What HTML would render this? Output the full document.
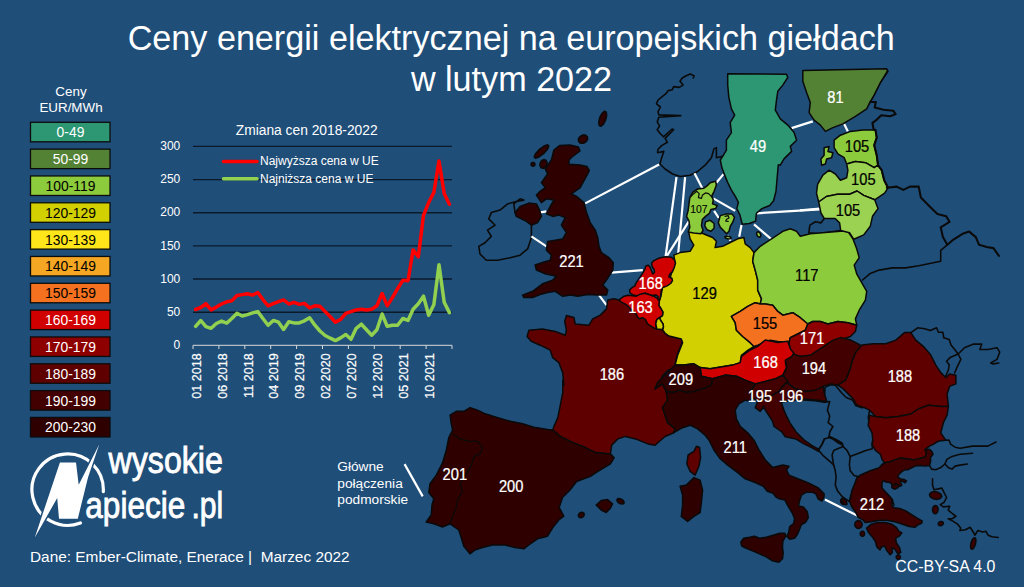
<!DOCTYPE html>
<html lang="pl"><head><meta charset="utf-8"><title>Ceny energii elektrycznej na europejskich giełdach w lutym 2022</title>
<style>
html,body{margin:0;padding:0;background:#1f4e79;}
body{width:1024px;height:587px;overflow:hidden;position:relative;font-family:"Liberation Sans",sans-serif;}
svg{position:absolute;left:0;top:0;display:block;font-family:"Liberation Sans",sans-serif;}
</style></head><body>
<svg width="1024" height="587" viewBox="0 0 1024 587">
<rect width="1024" height="587" fill="#1f4e79"/>
<g id="outl" fill="none" stroke="#0a0a0a" stroke-width="1.6" stroke-linejoin="round" stroke-linecap="round">
<polyline points="515.1,212.6 513.8,203.9 520.1,198.8 523.9,200.1 516.3,201.4 507.6,203.9 500.1,210.1 491.3,212.6 488.8,218.9 495.1,225.2 487.5,230.2 491.3,236.4 485.0,242.7 478.8,246.4 480.0,254.0 486.3,260.2 497.6,260.2 510.1,257.7 520.1,255.2 527.6,248.9 531.4,237.7 531.4,225.2"/>
<polyline points="693.3,78.0 694.1,75.7 690.2,74.1 686.2,75.7 682.3,78.0 680.0,81.2 683.1,85.1 679.2,87.4 673.7,86.6 672.1,89.8 668.2,90.6 665.9,93.7 661.9,96.8 658.0,100.0 656.5,103.9 660.4,107.0 658.0,111.7 658.8,114.9 680.8,115.6 658.8,117.2 657.2,121.9 659.6,125.8 657.2,129.7 660.4,133.7 663.5,136.8 672.1,129.0 673.7,129.7 665.1,138.4 667.4,142.3 661.9,145.4 658.0,149.3 657.5,152.7 663.8,151.4 661.3,158.9 660.0,164.0 665.1,169.0 672.6,174.0 680.1,176.5 690.1,175.2 697.6,171.5 705.1,165.2 711.4,157.7 713.9,148.9 716.4,147.7 716.4,157.7 722.7,156.4"/>
<polyline points="947.3,244.8 940.7,250.3 940.7,261.3 929.7,263.5 918.7,265.7 905.5,267.9 892.3,267.9 879.1,270.1 870.3,273.4 862.6,280.0"/>
<polyline points="840.7,230.5 828.6,232.3 817.6,233.8 808.8,232.7 809.9,225.1 815.4,221.8 820.9,222.9 824.2,218.5"/>
<polyline points="911.3,332.3 917.6,327.8 924.8,328.7 930.3,330.5 936.6,327.8 938.4,332.3 942.9,332.3 943.8,337.8 949.2,339.6 951.0,345.0 955.5,350.4 958.2,354.0 950.1,357.6 946.5,361.2 949.2,364.8 948.3,370.3 944.7,378.4"/>
<polyline points="954.6,373.0 957.3,366.6 960.9,359.4 958.2,354.0 964.5,347.7 973.6,344.1 981.7,344.1 979.9,349.5 988.0,349.5 997.0,347.7 999.7,352.2 997.0,359.4 990.7,363.0 993.4,363.9 998.8,363.0"/>
<polyline points="781.2,402.2 791.3,399.9 803.9,399.9 814.9,400.7 824.3,402.2 829.7,401.5 827.4,410.1 829.7,416.3 828.2,422.6 832.9,426.5 829.7,432.0 829.0,437.5 824.3,439.1 821.9,444.6 818.8,449.3"/>
<polyline points="824.3,402.2 825.0,387.4 829.7,385.0 835.2,385.0 841.5,392.8 846.2,397.5 852.5,399.9 855.6,405.4 861.9,407.7 866.6,405.4 869.7,410.1 868.2,417.9 869.7,424.2 875.2,428.9 876.8,433.6 872.9,438.3 872.1,444.6 875.2,430.0 876.8,434.7 872.8,440.0"/>
<polyline points="829.0,437.5 832.9,439.1 838.4,443.0 843.1,445.3 829.0,436.3 836.1,439.4 842.3,443.3 843.1,446.5 837.6,448.8 833.7,450.4 832.1,455.1 832.9,460.6 833.7,465.3"/>
<polyline points="824.3,439.1 821.9,444.6 818.8,449.3 818.8,450.4"/>
<polyline points="818.8,450.4 823.5,455.9 829.8,461.3 833.7,465.3 835.3,470.8 836.1,477.0 835.3,484.9 837.6,491.1 841.5,495.8 845.5,499.0 850.2,502.1"/>
<polyline points="843.1,446.5 847.0,450.4 850.2,456.6 849.4,464.5 850.2,470.8 854.1,475.5 859.6,477.0 860.3,477.8"/>
<polyline points="850.2,456.6 858.0,453.5 865.8,450.4 872.3,448.7 872.3,445.1"/>
<polyline points="929.5,465.6 931.6,469.1 935.7,469.7 940.8,467.6 944.9,464.0 946.9,459.4 952.0,456.4 960.0,454.3 972.5,453.3"/>
<polyline points="944.9,464.0 949.0,468.1 952.0,469.1 955.1,466.1 960.0,465.1 967.4,464.0"/>
<polyline points="941.8,440.5 949.0,440.0 950.5,444.1 955.1,447.2 960.0,448.2 972.5,446.1 987.8,446.1 996.0,442.0"/>
<polyline points="932.5,478.7 932.5,485.0 934.0,489.7 941.9,488.1 944.2,492.8 946.6,497.5 944.2,502.2 940.3,504.6 943.4,506.9 949.7,506.2 948.2,510.1 952.9,514.0 956.0,516.3 952.1,518.7 948.2,518.7 952.9,521.1 957.6,524.2 960.7,528.1 959.9,530.5 965.4,529.7 970.1,527.3 973.2,532.0 974.8,535.2 977.9,530.5 982.6,532.0 985.8,531.2 988.1,535.2 992.0,536.7 998.3,537.5"/>
</g>
<g id="cables" stroke="#fff" stroke-width="2.2" stroke-linecap="butt">
<line x1="585.2" y1="203.4" x2="659.1" y2="164.5"/>
<line x1="538.9" y1="212.6" x2="546.4" y2="211.4"/>
<line x1="531.4" y1="236.4" x2="546.4" y2="246.4"/>
<line x1="611.5" y1="272.7" x2="642.8" y2="270.2"/>
<line x1="599.0" y1="295.1" x2="606.5" y2="305.1"/>
<line x1="676.5" y1="177.2" x2="665.5" y2="257.2"/>
<line x1="685.1" y1="177.2" x2="677.6" y2="260.3"/>
<line x1="694.5" y1="173.3" x2="702.3" y2="188.2"/>
<line x1="723.5" y1="174.1" x2="716.4" y2="182.7"/>
<line x1="713.3" y1="198.4" x2="735.2" y2="210.9"/>
<line x1="714.1" y1="210.9" x2="718.8" y2="218.0"/>
<line x1="689.0" y1="221.1" x2="667.1" y2="255.6"/>
<line x1="741.5" y1="225.0" x2="739.2" y2="236.8"/>
<line x1="754.0" y1="224.3" x2="771.3" y2="239.2"/>
<line x1="756.4" y1="213.3" x2="820.0" y2="209.4"/>
<line x1="800.0" y1="210.3" x2="819.8" y2="208.6"/>
<line x1="727.4" y1="235.2" x2="730.5" y2="240.7"/>
<line x1="791.6" y1="128.1" x2="812.8" y2="121.4"/>
<line x1="844.2" y1="123.9" x2="847.9" y2="131.4"/>
<line x1="824.9" y1="499.6" x2="861.7" y2="517.7"/>
<line x1="404.6" y1="464.1" x2="422.7" y2="496.4"/>
</g>
<g id="map" stroke="#0a0a0a" stroke-width="1.5" stroke-linejoin="round">
<polygon points="607.8,300.1 614.0,298.8 620.0,300.3 621.0,301.3 624.1,302.9 627.2,304.9 630.2,308.0 633.3,311.0 636.3,313.6 637.4,316.2 639.4,318.2 642.5,317.2 645.5,319.2 647.6,323.3 650.6,325.3 653.7,327.4 656.8,328.9 662.4,329.4 664.9,333.0 669.0,336.1 675.2,337.6 681.3,339.1 682.3,342.2 677.9,352.7 675.4,362.7 675.4,367.7 667.9,370.2 662.9,375.3 657.9,385.3 655.0,388.9 662.5,383.9 666.3,391.4 667.6,400.1 662.5,407.7 665.1,415.2 667.6,422.7 675.1,428.9 673.8,432.7 665.1,436.5 655.0,445.2 648.0,443.9 635.5,438.9 625.4,436.4 617.9,438.9 611.7,445.1 610.4,453.9 595.4,452.6 582.8,446.4 572.8,442.6 560.3,436.4 552.8,430.1 554.0,426.3 557.8,417.6 560.3,405.1 562.8,392.5 562.8,380.0 563.9,385.3 562.7,372.7 558.9,362.7 552.7,357.7 550.2,350.2 540.1,345.2 531.4,341.4 527.1,336.4 528.9,330.2 542.6,328.9 555.2,331.4 565.2,335.2 566.4,330.2 564.7,321.4 566.4,315.6 574.0,317.6 575.2,323.9 589.0,325.2 592.7,318.9 600.3,315.1 606.5,308.9" fill="#5e0000"/>
<polygon points="688.8,232.5 697.6,231.3 706.4,235.0 712.6,237.5 716.4,241.3 715.1,247.6 722.6,246.3 730.2,242.5 737.7,238.8 743.9,237.5 745.2,243.8 750.2,247.6 754.0,252.6 752.7,261.3 755.2,270.1 757.7,280.1 757.7,290.1 761.5,298.9 760.2,303.9 755.2,302.7 747.7,306.4 740.2,311.4 731.4,316.4 735.2,322.7 736.4,330.2 742.7,336.5 750.2,342.7 754.0,346.5 747.7,350.3 741.4,355.3 740.2,362.8 740.2,362.6 732.7,365.1 717.7,367.6 710.1,368.8 700.1,367.6 693.9,363.8 683.8,365.1 675.1,365.1 677.6,355.3 682.6,342.7 681.3,339.1 675.2,337.6 669.0,336.1 664.9,333.0 662.4,329.4 663.4,326.9 662.9,323.8 660.9,320.8 659.3,317.9 662.4,315.6 662.9,312.1 660.9,308.5 658.8,305.4 659.3,301.3 660.9,296.2 662.5,287.6 668.8,282.6 671.3,273.9 675.1,262.6 673.8,255.1 680.1,252.6 690.1,251.3 693.8,245.1 690.1,238.8" fill="#d2d000"/>
<polygon points="559.6,145.5 570,145 578.4,147 580,151 572,157 569,160 569,164.3 580,165 587,166.6 589.3,170.5 587.7,173.8 580.2,187.6 571.5,193.8 576.5,196.3 584.0,202.6 586.5,212.6 590.2,222.6 595.3,230.2 597.8,237.7 599.0,246.4 601.5,252.7 609.0,257.7 613.3,262.7 613.3,262.5 612.8,270.0 607.3,278.8 602.8,285.1 607.8,290.1 606.5,295.1 597.8,295.1 587.7,294.6 577.7,296.3 570.2,295.1 562.7,296.3 555.2,291.3 547.7,292.6 540.1,294.6 532.6,297.6 523.9,297.6 522.6,295.1 532.6,291.3 542.6,283.8 552.7,280.1 556.4,276.3 545.2,273.8 536.4,270.0 535.1,265.0 542.6,262.5 550.2,260.2 551.4,255.2 546.4,250.2 547.7,241.4 555.2,240.2 562.7,238.9 566.4,232.7 561.4,225.2 565.2,217.6 558.9,215.1 552.7,216.4 546.4,213.9 550.2,206.4 553.9,200.1 546.4,198.8 541.4,202.6 536.4,195.1 540.1,191.3 545.2,187.6 541.4,182.6 547.7,173.8 545.2,168.8 551.4,160.0 553.9,150.0" fill="#2e0000"/>
<polygon points="515.1,212.6 520.1,206.4 528.9,203.1 536.4,203.9 539.6,210.1 541.4,216.4 537.6,222.6 531.4,225.2 526.4,221.4 521.4,218.9 516.3,216.4" fill="#2e0000"/>
<polygon points="605.7,119.9 603.5,124.1 601.0,126.3 599.2,125.6 598.7,122.3 599.7,117.7 601.9,113.5 604.4,111.3 606.2,112.0 606.7,115.3" fill="#2e0000"/>
<polygon points="587.3,136.7 587.7,139.2 586.2,141.7 583.6,143.3 580.7,143.3 578.7,141.7 578.3,139.2 579.8,136.7 582.4,135.1 585.3,135.1" fill="#2e0000"/>
<polygon points="543.5,153.7 539.0,157.0 535.4,158.2 534.2,156.9 535.7,153.4 539.5,149.3 544.0,146.0 547.6,144.8 548.8,146.1 547.3,149.6" fill="#2e0000"/>
<polygon points="535.0,164.3 534.6,165.5 533.6,166.2 532.4,166.2 531.4,165.5 531.0,164.3 531.4,163.1 532.4,162.4 533.6,162.4 534.6,163.1" fill="#2e0000"/>
<polygon points="546.8,165.2 545.3,167.5 543.1,168.4 541.0,167.7 539.9,165.5 540.2,162.8 541.7,160.5 543.9,159.6 546.0,160.3 547.1,162.5" fill="#2e0000"/>
<polygon points="696.4,446.3 699.6,447.5 700.6,457.5 698.9,466.3 695.1,475.1 690.1,471.3 686.8,463.8 688.1,455.0 693.9,451.3" fill="#5e0000"/>
<polygon points="450.1,415.1 456.3,411.3 463.9,411.3 470.1,407.6 477.6,410.1 485.2,413.8 497.7,417.6 510.2,421.3 522.7,423.8 535.3,427.6 547.8,429.6 552.8,430.1 560.3,436.4 572.8,442.6 582.8,446.4 595.4,452.6 610.4,453.9 614.2,457.7 610.4,463.9 597.9,471.4 590.4,476.4 576.6,481.5 570.0,490.0 562.5,497.5 559.2,507.5 563.8,516.2 558.8,520.0 553.8,526.2 547.5,536.2 537.5,538.8 528.8,545.0 523.8,548.8 515.0,547.5 505.0,545.0 492.5,545.0 482.5,547.5 475.0,550.0 470.0,553.8 463.8,546.2 461.2,537.5 458.8,530.0 450.0,523.8 442.5,527.0 433.8,523.8 426.2,522.0 431.2,515.0 432.0,505.0 433.8,498.8 428.8,492.5 430.0,483.8 436.3,475.2 442.6,462.7 446.3,450.1 448.8,437.6 452.6,430.1 451.3,423.8" fill="#2e0000"/>
<polygon points="596.2,505.0 601.2,500.5 607.5,499.5 612.5,503.8 610.0,508.8 606.2,512.5 601.2,510.0" fill="#2e0000"/>
<polygon points="624.0,503.3 622.6,504.1 620.5,503.8 618.3,502.6 617.0,500.9 617.0,499.3 618.4,498.5 620.5,498.8 622.7,500.0 624.0,501.7" fill="#2e0000"/>
<polygon points="583.9,513.2 584.3,514.8 583.5,516.5 581.9,517.6 580.1,517.7 578.7,516.8 578.3,515.2 579.1,513.5 580.7,512.4 582.5,512.3" fill="#2e0000"/>
<polygon points="653.4,260.9 659.4,257.9 665.3,256.7 671.3,257.3 674.3,259.7 675.5,263.3 674.3,267.4 672.5,271.6 669.5,274.6 668.9,277.0 671.9,278.2 672.5,280.6 670.7,283.5 667.1,285.9 664.1,287.1 661.8,287.7 661.2,291.3 660.6,296.1 659.6,299.6 658.2,302.0 657.9,298.5 658.2,296.7 655.8,294.9 651.0,295.5 645.6,293.1 641.5,294.3 637.9,296.1 633.1,294.9 630.1,293.1 629.5,290.1 631.9,287.7 634.9,285.9 636.1,282.9 638.5,279.4 640.9,275.8 643.3,272.2 645.1,268.6 645.6,266.2 648.0,265.1 649.8,266.8 651.6,271.0 652.8,274.0 654.6,272.2 654.0,269.2 652.2,266.8 651.6,263.3" fill="#d00000"/>
<polygon points="621.0,298.3 624.1,296.2 628.2,295.2 632.3,295.7 636.3,296.2 640.4,294.2 644.5,293.2 649.6,294.7 653.7,296.2 657.3,298.3 659.3,301.3 658.8,305.4 660.9,308.5 662.9,312.1 662.4,315.6 659.3,317.7 656.8,319.7 655.8,323.8 656.8,328.9 653.7,327.9 650.6,325.9 647.6,323.8 645.5,319.7 642.5,317.7 639.4,318.7 637.4,316.7 636.3,314.1 633.3,311.6 630.2,308.5 627.2,305.4 624.1,303.4 621.0,301.9 620.0,301.3 620.0,298.8" fill="#d00000"/>
<polygon points="656.8,319.7 659.3,317.9 660.9,320.8 662.9,323.8 663.4,326.9 662.4,329.4 656.8,328.9 655.8,323.8" fill="#d2d000"/>
<polygon points="656.8,319.7 659.3,317.9 660.9,320.8 662.9,323.8 663.4,326.9 662.4,329.4 656.8,328.9 655.8,323.8" fill="#d2d000"/>
<polygon points="754.0,252.6 760.2,246.3 767.7,241.3 775.3,236.3 782.8,231.3 790.3,228.8 796.5,231.3 800.3,236.3 810.3,233.8 825.4,232.5 840.4,231.3 847.9,231.3 852.9,238.8 856.7,248.8 859.2,257.6 854.2,265.1 856.7,273.9 861.7,282.6 866.7,291.4 865.4,300.2 859.2,310.2 855.4,318.9 856.7,325.2 847.9,322.7 837.9,321.5 827.9,324.0 820.3,321.5 812.8,321.5 807.8,324.0 800.3,317.7 792.8,312.7 782.8,315.2 777.8,311.4 772.7,305.2 765.2,303.9 760.2,303.9 761.5,298.9 757.7,290.1 757.7,280.1 755.2,270.1 752.7,261.3" fill="#8ccb3c"/>
<polygon points="731.4,316.4 740.2,311.4 747.7,306.4 755.2,302.7 760.2,303.9 765.2,303.9 772.7,305.2 777.8,311.4 782.8,315.2 792.8,312.7 800.3,317.7 807.8,324.0 805.3,330.2 797.8,334.0 790.3,337.7 789.0,342.7 777.8,341.5 770.2,340.2 764.0,342.7 757.7,345.3 754.0,346.5 750.2,342.7 742.7,336.5 736.4,330.2 735.2,322.7" fill="#f4711f"/>
<polygon points="807.8,324.0 812.8,321.5 820.3,321.5 827.9,324.0 837.9,321.5 847.9,322.7 856.7,325.2 855.4,331.5 850.4,336.5 842.9,339.0 835.4,340.2 827.9,345.3 820.3,350.3 812.8,355.3 802.8,356.5 795.3,355.3 790.3,350.3 789.0,342.7 790.3,337.7 797.8,334.0 805.3,330.2" fill="#8e0000"/>
<polygon points="700.1,367.6 710.1,368.8 717.7,367.6 732.7,365.1 740.2,362.6 741.5,356.3 750.2,350.0 757.7,346.3 765.3,340.0 777.8,342.5 787.8,341.3 790.3,348.8 795.3,355.1 790.3,358.8 785.3,361.3 786.5,367.6 782.8,375.1 775.3,378.8 765.3,381.4 755.2,383.9 745.2,380.1 736.4,376.3 725.2,375.1 712.6,378.8 701.4,376.3" fill="#d00000"/>
<polygon points="675.1,365.1 683.8,365.1 693.9,363.8 700.1,367.6 701.4,376.3 712.6,378.8 711.4,385.1 702.6,388.9 693.9,391.4 686.3,392.6 680.1,390.1 672.6,392.6 666.3,391.4 662.5,383.9 655.0,388.9 657.5,382.6 666.3,373.8 671.3,368.8" fill="#2e0000"/>
<polygon points="793.1,353.9 800.6,356.4 810.6,355.1 818.1,350.1 825.6,345.1 833.1,340.1 840.6,337.6 850.7,340.1 858.2,343.8 861.9,346.3 855.7,352.6 851.9,362.6 849.4,371.4 845.7,380.2 838.1,385.2 830.6,383.9 823.1,386.4 815.6,390.2 805.6,391.4 795.6,388.9 786.8,382.7 783.0,375.2 786.8,367.6 785.5,360.1 791.8,356.4" fill="#420000"/>
<polygon points="755.2,383.9 765.3,381.4 775.3,378.8 782.8,375.1 787.8,381.4 782.8,386.4 779.0,391.4 772.8,395.1 765.3,397.6 757.7,401.4 752.7,397.6 751.5,390.1" fill="#420000"/>
<polygon points="786.8,382.7 795.6,388.9 805.6,391.4 815.6,390.2 823.1,386.4 824.4,393.9 826.9,401.5 818.1,400.2 805.6,398.9 793.1,400.2 781.8,401.5 781.2,402.2 785.1,413.2 789.8,422.6 796.1,432.0 803.9,439.9 811.7,445.3 818.8,449.3 818.8,451.6 811.7,447.7 803.9,443.8 796.1,439.1 785.1,436.7 781.9,432.0 774.1,426.5 772.5,421.1 766.3,411.6 763.1,406.2 764.0,406.4 760.2,411.4 755.2,407.7 757.7,401.4 765.3,397.6 772.8,395.1 779.0,391.4 782.8,386.4 787.8,381.4" fill="#420000"/>
<polygon points="666.3,391.4 672.6,392.6 680.1,390.1 686.3,392.6 693.9,391.4 702.6,388.9 711.4,385.1 712.6,378.8 725.2,375.1 736.4,376.3 745.2,380.1 755.2,383.9 751.5,390.1 752.7,397.6 750.2,401.4 745.2,400.1 738.9,403.9 735.2,410.2 736.4,418.9 740.2,426.4 747.7,432.7 754.0,440.2 759.0,450.0 765.3,460.0 772.8,467.6 782.8,465.1 789.0,466.3 786.5,470.1 789.0,475.1 797.8,478.8 807.8,482.6 817.9,487.6 824.1,493.9 824.0,497.1 822.0,501.0 818.1,499.0 816.1,494.2 812.2,492.2 806.4,492.2 801.5,495.1 799.5,501.0 798.5,505.9 803.4,506.9 807.3,511.8 808.3,517.6 805.4,522.5 801.5,524.5 799.5,529.4 797.5,534.3 794.6,538.2 789.7,539.2 786.8,536.2 788.7,532.3 789.7,526.5 793.6,523.5 794.6,518.6 792.6,513.7 789.7,508.8 786.8,503.9 784.8,500.0 779.9,499.0 776.0,497.1 773.1,493.2 767.2,491.2 763.3,486.3 755.2,482.6 745.2,478.8 737.7,472.6 727.7,465.1 720.2,458.8 713.9,450.0 708.9,440.0 705.1,435.2 697.6,428.9 690.1,425.2 682.6,427.7 673.8,432.7 675.1,428.9 667.6,422.7 665.1,415.2 662.5,407.7 667.6,400.1" fill="#2e0000"/>
<polygon points="740.8,542.1 743.7,538.2 749.6,537.2 754.5,536.2 759.4,538.2 766.2,537.2 773.1,535.3 779.9,533.3 784.8,533.3 785.8,536.2 782.9,541.1 782.5,547.0 783.2,552.9 782.5,558.8 778.9,562.3 772.1,560.7 766.2,556.8 759.4,553.9 752.5,550.9 745.7,548.0 741.7,546.0" fill="#2e0000"/>
<polygon points="680.1,486.3 686.3,485.1 693.9,477.6 700.1,480.1 702.6,490.1 701.4,502.6 700.1,512.6 693.9,516.4 687.6,521.4 681.3,516.4 682.6,505.1 682.6,495.1" fill="#2e0000"/>
<polygon points="861.9,345.1 873.2,343.8 885.7,343.8 895.8,340.1 904.5,332.6 910.8,332.6 915.8,340.1 923.3,346.3 930.8,355.1 935.8,365.1 940.8,372.6 945.9,377.7 949.6,373.9 955.9,375.2 955.9,383.9 949.6,386.4 947.1,393.9 948.4,406.5 940.8,406.5 928.3,405.2 918.3,409.0 910.8,414.0 898.3,416.5 885.7,417.7 875.7,416.5 869.5,410.2 864.4,407.7 856.9,405.2 853.2,398.9 848.2,393.9 843.2,388.9 838.1,385.2 845.7,380.2 849.4,371.4 851.9,362.6 855.7,352.6" fill="#5e0000"/>
<polygon points="869.5,415.2 875.7,416.5 885.7,417.7 898.3,416.5 910.8,414.0 918.3,409.0 928.3,405.2 940.8,406.5 948.4,406.5 947.1,415.2 943.4,422.7 940.8,432.8 945.9,440.3 941.8,440.5 937.7,441.5 933.6,444.1 929.5,446.1 924.9,449.7 926.5,452.3 925.4,456.9 919.3,458.4 914.2,459.9 908.1,458.9 900.9,457.9 895.8,459.4 890.7,461.5 884.5,463.0 882.0,459.4 880.4,454.3 875.3,450.2 872.3,445.1 872.8,440.0 872.0,432.8 868.2,425.3" fill="#5e0000"/>
<polygon points="856.9,477.8 860.0,475.3 870.2,470.7 879.4,467.6 882.0,464.5 884.5,463.0 890.7,461.5 895.8,459.4 900.9,457.9 908.1,458.9 914.2,459.9 919.3,458.4 925.4,456.9 926.5,452.3 924.9,449.7 929.5,449.2 931.6,451.2 933.1,454.3 930.6,457.4 930.6,461.5 929.5,465.6 925.4,466.1 920.3,465.6 915.2,466.1 911.1,468.1 908.1,469.7 905.0,469.7 901.9,471.7 898.9,474.3 897.8,477.3 900.9,478.9 904.0,479.4 906.5,480.9 905.0,482.9 901.9,480.9 899.9,481.4 901.9,485.0 899.9,486.5 896.8,484.0 895.3,483.5 896.8,488.1 894.8,489.1 892.2,486.5 891.7,484.0 889.7,482.4 885.6,481.9 883.5,480.4 882.0,482.9 882.0,488.1 885.6,492.1 889.7,496.2 892.7,500.0 892.5,500.5 894.0,505.2 891.7,500.7 891.7,505.4 894.1,507.7 899.6,508.5 905.8,510.9 910.5,514.0 916.8,517.9 922.3,521.1 921.5,523.4 917.6,525.0 915.2,527.3 909.0,526.5 902.7,524.2 894.9,521.8 887.0,520.3 879.2,520.3 871.3,521.8 865.1,522.6 863.5,520.3 858.0,517.1 855.7,512.4 851.8,506.9 849.4,500.7 851.0,494.4 850.5,499.0 851.7,491.1 854.9,483.3" fill="#3c0000"/>
<polygon points="866.6,528.1 871.3,524.2 877.6,522.6 885.5,522.6 891.7,524.2 896.4,527.3 898.8,531.2 901.9,532.8 899.6,535.9 895.6,538.3 896.4,543.0 899.6,547.7 900.8,552.4 898.0,554.0 894.9,549.3 891.7,547.7 892.5,552.4 890.2,554.7 887.0,550.8 884.7,546.1 881.5,546.9 880.0,550.0 876.8,546.9 875.3,541.4 872.1,536.7 868.2,532.0" fill="#3c0000"/>
<polygon points="900.5,557.1 900.1,558.4 899.0,559.2 897.6,559.2 896.5,558.4 896.1,557.1 896.5,555.8 897.6,555.0 899.0,555.0 900.1,555.8" fill="#3c0000"/>
<polygon points="862.2,525.2 861.1,527.4 859.0,528.5 856.7,528.1 855.1,526.3 854.8,523.8 855.9,521.6 858.0,520.5 860.3,520.9 861.9,522.7" fill="#3c0000"/>
<polygon points="864.6,533.7 864.2,535.3 863.1,536.3 861.7,536.3 860.6,535.3 860.2,533.7 860.6,532.2 861.7,531.2 863.1,531.2 864.2,532.2" fill="#3c0000"/>
<polygon points="845.5,500.6 845.7,502.5 844.9,504.0 843.4,504.5 841.9,503.9 840.8,502.3 840.6,500.4 841.4,498.9 842.8,498.4 844.4,499.0" fill="#3c0000"/>
<polygon points="941.8,496.6 940.2,498.6 936.9,499.4 933.1,498.7 930.2,496.8 929.4,494.4 931.0,492.4 934.3,491.6 938.1,492.3 941.0,494.2" fill="#3c0000"/>
<polygon points="938.1,509.9 937.4,512.3 935.8,513.7 934.1,513.5 932.8,511.9 932.5,509.4 933.2,506.9 934.8,505.5 936.5,505.7 937.8,507.3" fill="#3c0000"/>
<polygon points="943.3,522.6 943.2,523.9 942.2,525.1 940.7,525.7 939.2,525.4 938.3,524.5 938.3,523.2 939.3,522.0 940.9,521.5 942.4,521.7" fill="#3c0000"/>
<polygon points="975.5,544.1 974.1,547.4 972.4,549.3 971.0,548.9 970.5,546.4 971.0,542.9 972.3,539.5 974.0,537.7 975.4,538.0 976.0,540.5" fill="#3c0000"/>
<polygon points="898.6,486.0 898.1,487.3 896.6,488.3 894.5,488.7 892.6,488.2 891.8,487.2 892.2,485.9 893.8,484.8 895.9,484.5 897.7,484.9" fill="#3c0000"/>
<polygon points="845.8,500.5 846.8,502.6 846.9,504.2 846.1,504.8 844.5,504.2 842.9,502.5 841.9,500.4 841.8,498.7 842.7,498.1 844.2,498.8" fill="#3c0000"/>
<polygon points="727.7,73.8 786.5,74.3 787.8,77.5 782.8,85.1 777.8,91.3 776.5,100.1 775.3,110.1 780.3,118.9 787.8,125.1 794.1,132.6 796.6,140.2 790.3,146.4 791.6,151.4 784.0,158.9 780.3,165.2 778.3,164.7 777.6,172.5 776.8,181.9 776.0,191.3 773.6,200.8 769.7,205.5 761.9,208.6 756.4,213.3 755.6,221.1 749.3,223.5 742.3,224.3 739.9,214.9 736.8,208.6 738.4,202.3 735.2,196.1 731.3,189.8 727.4,181.9 724.3,174.1 721.9,167.8 720.3,160.0 722.7,156.4 726.4,150.2 726.4,140.2 731.4,132.6 730.2,122.6 734.7,115.1 731.4,108.8 728.9,97.6 727.7,85.1" fill="#2d9773"/>
<polygon points="802.8,70.5 886.7,68.8 888.0,71.3 880.5,82.5 874.2,95.1 869.2,103.8 866.7,108.8 855.4,116.4 842.9,123.9 832.9,127.6 825.4,131.4 820.4,125.1 814.1,120.1 809.1,112.6 810.3,102.6 806.6,92.6 802.8,81.3" fill="#548235"/>
<polygon points="834.1,140.2 840.4,135.2 850.4,131.4 862.9,130.1 875.5,130.1 876.7,137.7 874.2,145.2 876.7,155.2 878.0,165.2 874.2,167.7 865.5,162.7 855.4,161.5 846.7,164.0 844.2,157.7 837.9,153.9 834.1,147.7" fill="#8ccb3c"/>
<polygon points="824.1,147.7 829.1,146.4 827.9,151.4 832.9,152.7 831.6,157.7 826.6,158.9 825.4,164.0 821.6,165.2 820.9,158.9 824.1,155.2" fill="#8ccb3c"/>
<polygon points="846.7,164.0 855.4,161.5 865.5,162.7 874.2,167.7 878.0,165.2 881.7,170.2 884.2,180.2 888.0,187.8 884.6,193.2 874.7,199.8 863.7,195.4 857.1,191.0 849.5,194.3 837.4,194.3 826.4,196.5 818.7,202.0 816.5,193.2 817.6,184.4 822.9,175.2 829.1,170.2 835.4,174.0 840.4,180.2 846.7,177.7 847.9,170.2" fill="#9bd252"/>
<polygon points="818.7,202.0 826.4,196.5 837.4,194.3 849.5,194.3 857.1,191.0 863.7,195.4 874.7,199.8 878.0,208.6 872.5,216.3 870.3,226.2 863.7,234.9 853.8,239.3 849.5,232.7 840.7,230.5 839.6,222.9 835.2,218.5 824.2,218.5 820.9,213.0 819.8,207.5" fill="#9bd252"/>
<polygon points="715.6,181.2 716.4,185.1 714.1,191.3 711.7,196.1 713.3,200.0 712.5,203.9 717.2,205.5 715.6,208.6 710.9,209.4 709.4,213.3 705.5,216.4 702.3,219.6 701.5,225.8 703.1,230.5 700.8,233.7 693.7,232.9 688.2,232.1 689.8,227.4 689.0,221.1 686.6,216.4 688.2,210.2 689.0,203.9 689.8,197.6 692.9,192.1 697.6,189.0 703.9,188.2 707.0,185.9 710.2,182.7" fill="#8ccb3c"/>
<polygon points="705.5,221.9 710.2,220.3 714.1,223.5 714.1,228.2 710.9,231.3 707.0,229.7 704.7,225.8" fill="#8ccb3c"/>
<polygon points="720.3,215.6 725.8,214.1 732.1,214.1 734.5,217.2 732.9,221.9 730.5,225.8 729.0,231.3 726.6,233.7 723.5,230.5 720.3,227.4 718.3,222.7" fill="#8ccb3c"/>
<polygon points="731.2,238.1 730.4,238.7 728.8,238.9 726.8,238.5 725.3,237.8 724.8,236.9 725.6,236.3 727.2,236.1 729.2,236.5 730.7,237.2" fill="#8ccb3c"/>
<polygon points="760.4,233.7 760.8,235.3 760.4,236.7 759.3,237.2 758.0,236.6 757.0,235.3 756.6,233.7 757.0,232.3 758.1,231.8 759.4,232.4" fill="#8ccb3c"/>
</g>
<g id="borders" fill="none" stroke="#0a0a0a" stroke-width="1.2" stroke-linejoin="round" stroke-linecap="round">
<polyline points="452.6,433.9 460.1,438.9 468.9,441.4 477.6,441.4 482.6,447.6 480.1,453.9 473.9,456.4 471.4,465.2 466.4,473.9 461.4,481.5 460.0,485.0 462.5,491.2 457.5,500.0 456.2,507.5 452.5,516.2 450.0,523.8"/>
<polyline points="887.5,70.5 880.5,82.5 874.2,95.1 869.2,103.8"/>
<polyline points="690.6,196.8 693.7,193.7 696.8,191.3 699.2,193.7 698.4,197.6 701.5,198.4 702.3,195.3 705.5,192.9 708.6,193.7 711.7,196.8"/>
<polyline points="725.0,216.4 728.2,215.6 729.0,218.0 726.6,219.2 725.8,221.1 728.2,221.4"/>
</g>
<g id="thick" fill="none" stroke="#0a0a0a" stroke-width="2.1" stroke-linejoin="round" stroke-linecap="round">
<polyline points="870.3,102.0 875.8,102.0 874.7,107.5 883.5,109.7 893.4,110.8 895.6,114.1 890.1,116.3 881.3,115.2 876.9,119.6 872.5,122.9 873.6,129.5 875.5,130.1 876.7,137.7 874.2,145.2 876.7,155.2 878.0,165.2 881.7,170.2 884.2,180.2 888.0,187.8 886.8,187.7 896.7,186.6 903.3,189.9 909.9,186.6 918.7,186.6 920.9,197.6 929.7,206.4 937.4,214.1 946.2,216.3 949.5,221.8 940.7,227.3 942.9,237.1 947.3,244.8 953.8,239.3 962.6,233.8 969.2,231.6 975.8,237.1 979.1,244.8 986.8,247.0 993.4,248.1 998.9,255.8"/>
</g>
<g id="maplabels">
<text transform="translate(571.5,266.5) scale(1,1.12)" fill="#fff" stroke="#fff" stroke-width="0.22" font-size="14.69" text-anchor="middle">221</text>
<text transform="translate(650.7,288.6) scale(1,1.12)" fill="#fff" stroke="#fff" stroke-width="0.22" font-size="14.69" text-anchor="middle">168</text>
<text transform="translate(640.5,312.9) scale(1,1.12)" fill="#fff" stroke="#fff" stroke-width="0.22" font-size="14.69" text-anchor="middle">163</text>
<text transform="translate(704.6,298.9) scale(1,1.12)" fill="#000" stroke="#000" stroke-width="0.22" font-size="14.69" text-anchor="middle">129</text>
<text transform="translate(806.8,281.2) scale(1,1.12)" fill="#000" stroke="#000" stroke-width="0.22" font-size="14.69" text-anchor="middle">117</text>
<text transform="translate(765,328.5) scale(1,1.12)" fill="#000" stroke="#000" stroke-width="0.22" font-size="14.69" text-anchor="middle">155</text>
<text transform="translate(812.1,343.8) scale(1,1.12)" fill="#fff" stroke="#fff" stroke-width="0.22" font-size="14.69" text-anchor="middle">171</text>
<text transform="translate(765.6,368.4) scale(1,1.12)" fill="#fff" stroke="#fff" stroke-width="0.22" font-size="14.69" text-anchor="middle">168</text>
<text transform="translate(813.9,373.9) scale(1,1.12)" fill="#fff" stroke="#fff" stroke-width="0.22" font-size="14.69" text-anchor="middle">194</text>
<text transform="translate(680.8,384.6) scale(1,1.12)" fill="#fff" stroke="#fff" stroke-width="0.22" font-size="14.69" text-anchor="middle">209</text>
<text transform="translate(759.9,402.2) scale(1,1.12)" fill="#fff" stroke="#fff" stroke-width="0.22" font-size="14.69" text-anchor="middle">195</text>
<text transform="translate(791,401.5) scale(1,1.12)" fill="#fff" stroke="#fff" stroke-width="0.22" font-size="14.69" text-anchor="middle">196</text>
<text transform="translate(611.9,379.7) scale(1,1.12)" fill="#fff" stroke="#fff" stroke-width="0.22" font-size="14.69" text-anchor="middle">186</text>
<text transform="translate(735.2,453.4) scale(1,1.12)" fill="#fff" stroke="#fff" stroke-width="0.22" font-size="14.69" text-anchor="middle">211</text>
<text transform="translate(899.9,382.1) scale(1,1.12)" fill="#fff" stroke="#fff" stroke-width="0.22" font-size="14.69" text-anchor="middle">188</text>
<text transform="translate(908,441.3) scale(1,1.12)" fill="#fff" stroke="#fff" stroke-width="0.22" font-size="14.69" text-anchor="middle">188</text>
<text transform="translate(872,510.2) scale(1,1.12)" fill="#fff" stroke="#fff" stroke-width="0.22" font-size="14.69" text-anchor="middle">212</text>
<text transform="translate(454.8,479.6) scale(1,1.12)" fill="#fff" stroke="#fff" stroke-width="0.22" font-size="14.69" text-anchor="middle">201</text>
<text transform="translate(511.2,491.8) scale(1,1.12)" fill="#fff" stroke="#fff" stroke-width="0.22" font-size="14.69" text-anchor="middle">200</text>
<text transform="translate(758,152.1) scale(1,1.12)" fill="#fff" stroke="#fff" stroke-width="0.22" font-size="14.69" text-anchor="middle">49</text>
<text transform="translate(835.4,103.1) scale(1,1.12)" fill="#fff" stroke="#fff" stroke-width="0.22" font-size="14.69" text-anchor="middle">81</text>
<text transform="translate(857,151.5) scale(1,1.12)" fill="#000" stroke="#000" stroke-width="0.22" font-size="14.69" text-anchor="middle">105</text>
<text transform="translate(863.3,185.3) scale(1,1.12)" fill="#000" stroke="#000" stroke-width="0.22" font-size="14.69" text-anchor="middle">105</text>
<text transform="translate(848,215.9) scale(1,1.12)" fill="#000" stroke="#000" stroke-width="0.22" font-size="14.69" text-anchor="middle">105</text>
<text transform="translate(698.8,213.4) scale(1,1.12)" fill="#000" stroke="#000" stroke-width="0.1" font-size="10.37" text-anchor="middle">107</text>
</g>
<g id="title" fill="#fff" font-size="34.17" text-anchor="middle">
<text x="511.2" y="50.3">Ceny energii elektrycznej na europejskich giełdach</text>
<text x="511.5" y="91">w lutym 2022</text>
</g>
<g id="legend" font-size="13.9" text-anchor="middle">
<text x="71" y="95.6" fill="#fff" font-size="13.4">Ceny</text>
<text x="71" y="111.7" fill="#fff" font-size="13.4">EUR/MWh</text>
<rect x="30.5" y="122.30" width="79.5" height="19.5" fill="#2d9773" stroke="#0c0c0c" stroke-width="1.3"/>
<text transform="translate(70.5,137.20) scale(1,1.09)" fill="#fff">0-49</text>
<rect x="30.5" y="149.13" width="79.5" height="19.5" fill="#548235" stroke="#0c0c0c" stroke-width="1.3"/>
<text transform="translate(70.5,164.03) scale(1,1.09)" fill="#fff">50-99</text>
<rect x="30.5" y="175.96" width="79.5" height="19.5" fill="#8ccb3c" stroke="#0c0c0c" stroke-width="1.3"/>
<text transform="translate(70.5,190.86) scale(1,1.09)" fill="#000">100-119</text>
<rect x="30.5" y="202.79" width="79.5" height="19.5" fill="#d2d000" stroke="#0c0c0c" stroke-width="1.3"/>
<text transform="translate(70.5,217.69) scale(1,1.09)" fill="#000">120-129</text>
<rect x="30.5" y="229.62" width="79.5" height="19.5" fill="#ffe61a" stroke="#0c0c0c" stroke-width="1.3"/>
<text transform="translate(70.5,244.52) scale(1,1.09)" fill="#000">130-139</text>
<rect x="30.5" y="256.45" width="79.5" height="19.5" fill="#f5a623" stroke="#0c0c0c" stroke-width="1.3"/>
<text transform="translate(70.5,271.35) scale(1,1.09)" fill="#000">140-149</text>
<rect x="30.5" y="283.28" width="79.5" height="19.5" fill="#f4711f" stroke="#0c0c0c" stroke-width="1.3"/>
<text transform="translate(70.5,298.18) scale(1,1.09)" fill="#000">150-159</text>
<rect x="30.5" y="310.11" width="79.5" height="19.5" fill="#d00000" stroke="#0c0c0c" stroke-width="1.3"/>
<text transform="translate(70.5,325.01) scale(1,1.09)" fill="#fff">160-169</text>
<rect x="30.5" y="336.94" width="79.5" height="19.5" fill="#8e0000" stroke="#0c0c0c" stroke-width="1.3"/>
<text transform="translate(70.5,351.84) scale(1,1.09)" fill="#fff">170-179</text>
<rect x="30.5" y="363.77" width="79.5" height="19.5" fill="#5e0000" stroke="#0c0c0c" stroke-width="1.3"/>
<text transform="translate(70.5,378.67) scale(1,1.09)" fill="#fff">180-189</text>
<rect x="30.5" y="390.60" width="79.5" height="19.5" fill="#420000" stroke="#0c0c0c" stroke-width="1.3"/>
<text transform="translate(70.5,405.50) scale(1,1.09)" fill="#fff">190-199</text>
<rect x="30.5" y="417.43" width="79.5" height="19.5" fill="#2e0000" stroke="#0c0c0c" stroke-width="1.3"/>
<text transform="translate(70.5,432.33) scale(1,1.09)" fill="#fff">200-230</text>
</g>

<g id="chart" fill="#fff">
<line x1="193" y1="312.2" x2="452" y2="312.2" stroke="#0b1a2b" stroke-width="1.4"/><line x1="193" y1="279.0" x2="452" y2="279.0" stroke="#0b1a2b" stroke-width="1.4"/><line x1="193" y1="245.9" x2="452" y2="245.9" stroke="#0b1a2b" stroke-width="1.4"/><line x1="193" y1="212.7" x2="452" y2="212.7" stroke="#0b1a2b" stroke-width="1.4"/><line x1="193" y1="179.6" x2="452" y2="179.6" stroke="#0b1a2b" stroke-width="1.4"/><line x1="193" y1="146.4" x2="452" y2="146.4" stroke="#0b1a2b" stroke-width="1.4"/>
<line x1="193" y1="345.3" x2="452" y2="345.3" stroke="#d9d9d9" stroke-width="1"/>
<line x1="193.0" y1="345.3" x2="193.0" y2="349" stroke="#d9d9d9" stroke-width="1"/><line x1="218.9" y1="345.3" x2="218.9" y2="349" stroke="#d9d9d9" stroke-width="1"/><line x1="244.8" y1="345.3" x2="244.8" y2="349" stroke="#d9d9d9" stroke-width="1"/><line x1="270.7" y1="345.3" x2="270.7" y2="349" stroke="#d9d9d9" stroke-width="1"/><line x1="296.6" y1="345.3" x2="296.6" y2="349" stroke="#d9d9d9" stroke-width="1"/><line x1="322.5" y1="345.3" x2="322.5" y2="349" stroke="#d9d9d9" stroke-width="1"/><line x1="348.4" y1="345.3" x2="348.4" y2="349" stroke="#d9d9d9" stroke-width="1"/><line x1="374.3" y1="345.3" x2="374.3" y2="349" stroke="#d9d9d9" stroke-width="1"/><line x1="400.2" y1="345.3" x2="400.2" y2="349" stroke="#d9d9d9" stroke-width="1"/><line x1="426.1" y1="345.3" x2="426.1" y2="349" stroke="#d9d9d9" stroke-width="1"/><line x1="452.0" y1="345.3" x2="452.0" y2="349" stroke="#d9d9d9" stroke-width="1"/>
<text x="180.3" y="349.0" text-anchor="end" font-size="12">0</text><text x="180.3" y="315.9" text-anchor="end" font-size="12">50</text><text x="180.3" y="282.7" text-anchor="end" font-size="12">100</text><text x="180.3" y="249.6" text-anchor="end" font-size="12">150</text><text x="180.3" y="216.4" text-anchor="end" font-size="12">200</text><text x="180.3" y="183.2" text-anchor="end" font-size="12">250</text><text x="180.3" y="150.1" text-anchor="end" font-size="12">300</text>
<text transform="translate(200.7,353.3) rotate(-90)" text-anchor="end" font-size="12.6" stroke="#fff" stroke-width="0.2">01 2018</text><text transform="translate(226.6,353.3) rotate(-90)" text-anchor="end" font-size="12.6" stroke="#fff" stroke-width="0.2">06 2018</text><text transform="translate(252.5,353.3) rotate(-90)" text-anchor="end" font-size="12.6" stroke="#fff" stroke-width="0.2">11 2018</text><text transform="translate(278.4,353.3) rotate(-90)" text-anchor="end" font-size="12.6" stroke="#fff" stroke-width="0.2">04 2019</text><text transform="translate(304.3,353.3) rotate(-90)" text-anchor="end" font-size="12.6" stroke="#fff" stroke-width="0.2">09 2019</text><text transform="translate(330.2,353.3) rotate(-90)" text-anchor="end" font-size="12.6" stroke="#fff" stroke-width="0.2">02 2020</text><text transform="translate(356.1,353.3) rotate(-90)" text-anchor="end" font-size="12.6" stroke="#fff" stroke-width="0.2">07 2020</text><text transform="translate(382.0,353.3) rotate(-90)" text-anchor="end" font-size="12.6" stroke="#fff" stroke-width="0.2">12 2020</text><text transform="translate(407.9,353.3) rotate(-90)" text-anchor="end" font-size="12.6" stroke="#fff" stroke-width="0.2">05 2021</text><text transform="translate(433.8,353.3) rotate(-90)" text-anchor="end" font-size="12.6" stroke="#fff" stroke-width="0.2">10 2021</text>
<text x="306.7" y="135" text-anchor="middle" font-size="13.8">Zmiana cen 2018-2022</text>
<polyline points="195.6,309.5 200.8,307.5 205.9,303.7 211.1,309.9 216.3,307.1 221.5,304 226.7,301.9 231.8,300.7 237.0,295.5 242.2,294.6 247.4,293.7 252.6,295.1 257.8,292.5 262.9,299.6 268.1,305.8 273.3,303.7 278.5,301.7 283.6,299.9 288.8,304 294.0,302.3 299.2,304.4 304.4,303.4 309.6,307.8 314.7,305.8 319.9,306.2 325.1,311.6 330.3,316.7 335.4,322.2 340.6,319.4 345.8,313.3 351.0,311.6 356.2,309.9 361.4,309.2 366.5,309.9 371.7,309.2 376.9,305.8 382.1,293.5 387.2,305.8 392.4,297.6 397.6,288.7 402.8,280.3 408.0,280.8 413.1,249.9 418.3,256.8 423.5,215.3 428.7,202.5 433.9,192.3 439.0,160.9 444.2,193.6 449.4,204.3" fill="none" stroke="#ff0000" stroke-width="3.5" stroke-linejoin="round" stroke-linecap="round"/>
<polyline points="195.6,326.3 200.8,320.5 205.9,326.7 211.1,328.3 216.3,323.5 221.5,321.1 226.7,323.1 231.8,318.5 237.0,313.3 242.2,316 247.4,314.6 252.6,312.9 257.8,311.6 262.9,318.5 268.1,325.3 273.3,320.4 278.5,322.2 283.6,329.4 288.8,321.8 294.0,322.9 299.2,322.9 304.4,320.8 309.6,317.7 314.7,324.9 319.9,331 325.1,335.5 330.3,338.2 335.4,340.6 340.6,337.9 345.8,334.5 351.0,339.3 356.2,328.3 361.4,324.2 366.5,329.7 371.7,335.2 376.9,329.7 382.1,314 387.2,326.3 392.4,325.3 397.6,325.3 402.8,318.5 408.0,320.4 413.1,309.2 418.3,303.7 423.5,296.2 428.7,315.3 433.9,304.4 439.0,264.7 444.2,302.3 449.4,312.6" fill="none" stroke="#92d050" stroke-width="3.5" stroke-linejoin="round" stroke-linecap="round"/>
<line x1="223.5" y1="161.5" x2="257" y2="161.5" stroke="#ff0000" stroke-width="3.5" stroke-linecap="round"/>
<line x1="223.5" y1="178.8" x2="257" y2="178.8" stroke="#92d050" stroke-width="3.5" stroke-linecap="round"/>
<text x="260" y="165.3" font-size="12">Najwyższa cena w UE</text>
<text x="260" y="182.6" font-size="12">Najniższa cena w UE</text>
</g>
<g id="logo">
<path d="M103.3,491.6 A35.7,35.7 0 1 0 80.4,523.0" fill="none" stroke="#fff" stroke-width="3.2" stroke-linecap="round"/>
<polygon points="59.9,462.4 76.0,462.4 78.7,484.7 99.2,444.5 88.0,477.6 77.8,518.7 59.0,518.7 57.2,498.1 34.8,537.5" fill="none" stroke="#1f4e79" stroke-width="3" stroke-linejoin="round"/>
<polygon points="59.9,462.4 76.0,462.4 78.7,484.7 99.2,444.5 88.0,477.6 77.8,518.7 59.0,518.7 57.2,498.1 34.8,537.5" fill="#fff"/>
<g fill="#fff" stroke="#fff" stroke-width="0.8" font-size="34">
<text transform="translate(108.6,473.2) scale(0.945,1.08)">wysokie</text>
<text transform="translate(85.3,518) scale(0.928,1.09)">apiecie</text>
<text transform="translate(191.5,518) scale(0.885,1.09)">.pl</text>
</g>
</g>
<g fill="#fff" font-size="15.3">
<text x="30" y="561.6" font-size="15.4" style="white-space:pre">Dane: Ember-Climate, Enerace |  Marzec 2022</text>
<text x="895.3" y="572.4" font-size="15.9">CC-BY-SA 4.0</text>
</g>
<g fill="#fff" font-size="13.7">
<text x="337.3" y="470.9">Główne</text>
<text x="337.3" y="487.6">połączenia</text>
<text x="337.3" y="504.3">podmorskie</text>
</g>
</svg>
</body></html>
